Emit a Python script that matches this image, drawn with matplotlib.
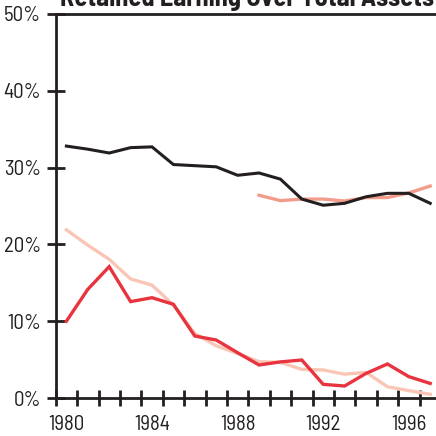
import matplotlib
matplotlib.use("Agg")
import matplotlib.pyplot as plt

years = list(range(1980, 1998))
black_vals = [32.8, 32.4, 31.9, 32.6, 32.7, 30.4, 30.25, 30.1, 29.0, 29.3, 28.5,
              25.9, 25.1, 25.35, 26.2, 26.65, 26.65, 25.35]
salmon_years = list(range(1989, 1998))
salmon_vals = [26.4, 25.7, 25.9, 25.9, 25.65, 26.1, 26.1, 26.7, 27.6]
red_vals = [10.0, 14.15, 17.1, 12.55, 13.06, 12.2, 8.07, 7.55, 5.9, 4.3, 4.7,
            4.95, 1.78, 1.56, 3.2, 4.43, 2.78, 1.9]
pink_vals = [21.9, 19.9, 18.06, 15.5, 14.7, 12.1, 8.4, 6.8, 5.8, 4.73, 4.64,
             3.73, 3.65, 3.1, 3.34, 1.47, 0.96, 0.48]
ytick_vals = [0, 10, 20, 30, 40, 50]
ytick_labels = ["0%", "10%", "20%", "30%", "40%", "50%"]
xlabel_years = [1980, 1984, 1988, 1992, 1996]
title = "Retained Earning Over Total Assets"

plt.rcParams['font.family'] = ['Barlow Semi Condensed', 'DejaVu Sans']

W = H = 436
fig = plt.figure(figsize=(4.36, 4.36), dpi=100)
ax = fig.add_axes([55.7 / W, 1 - 398 / H, (W - 55.7) / W, (398 - 14) / H])

ax.plot(years, pink_vals, color="#f9c6b6", lw=2.4, solid_joinstyle="miter", zorder=2)
ax.plot(years, red_vals, color="#e8343f", lw=2.4, solid_joinstyle="miter", zorder=3)
ax.plot(years, black_vals, color="#231f20", lw=2.2, solid_joinstyle="miter", zorder=3)
ax.plot(salmon_years, salmon_vals, color="#f29c8c", lw=2.4, solid_joinstyle="miter", zorder=2)

ax.set_xlim(1979.5, 1979.5 + (W - 55.7) / 21.4)
ax.set_ylim(0, 50)

ax.spines['right'].set_visible(False)
for s in ['left', 'bottom', 'top']:
    ax.spines[s].set_linewidth(2.0)
    ax.spines[s].set_color("#231f20")

ax.set_yticks(ytick_vals)
ax.set_yticklabels(ytick_labels)
ax.set_xticks([y - 0.5 for y in range(1980, 1998)])
ax.set_xticklabels([])
ax.set_xticks(xlabel_years, minor=True)
ax.set_xticklabels([str(y) for y in xlabel_years], minor=True)

ax.tick_params(axis='y', which='major', direction='inout', length=13, width=2,
               color="#231f20", labelsize=15, labelcolor="#231f20", pad=4)
ax.tick_params(axis='x', which='major', direction='inout', length=12, width=2,
               color="#231f20")
ax.tick_params(axis='x', which='minor', length=0, labelsize=15,
               labelcolor="#231f20", pad=12)

fig.text(60 / W, 1 - 6 / H, title, ha='left', va='baseline',
         fontsize=19, fontweight='bold', color="#231f20")

fig.savefig("out.png", dpi=100)
